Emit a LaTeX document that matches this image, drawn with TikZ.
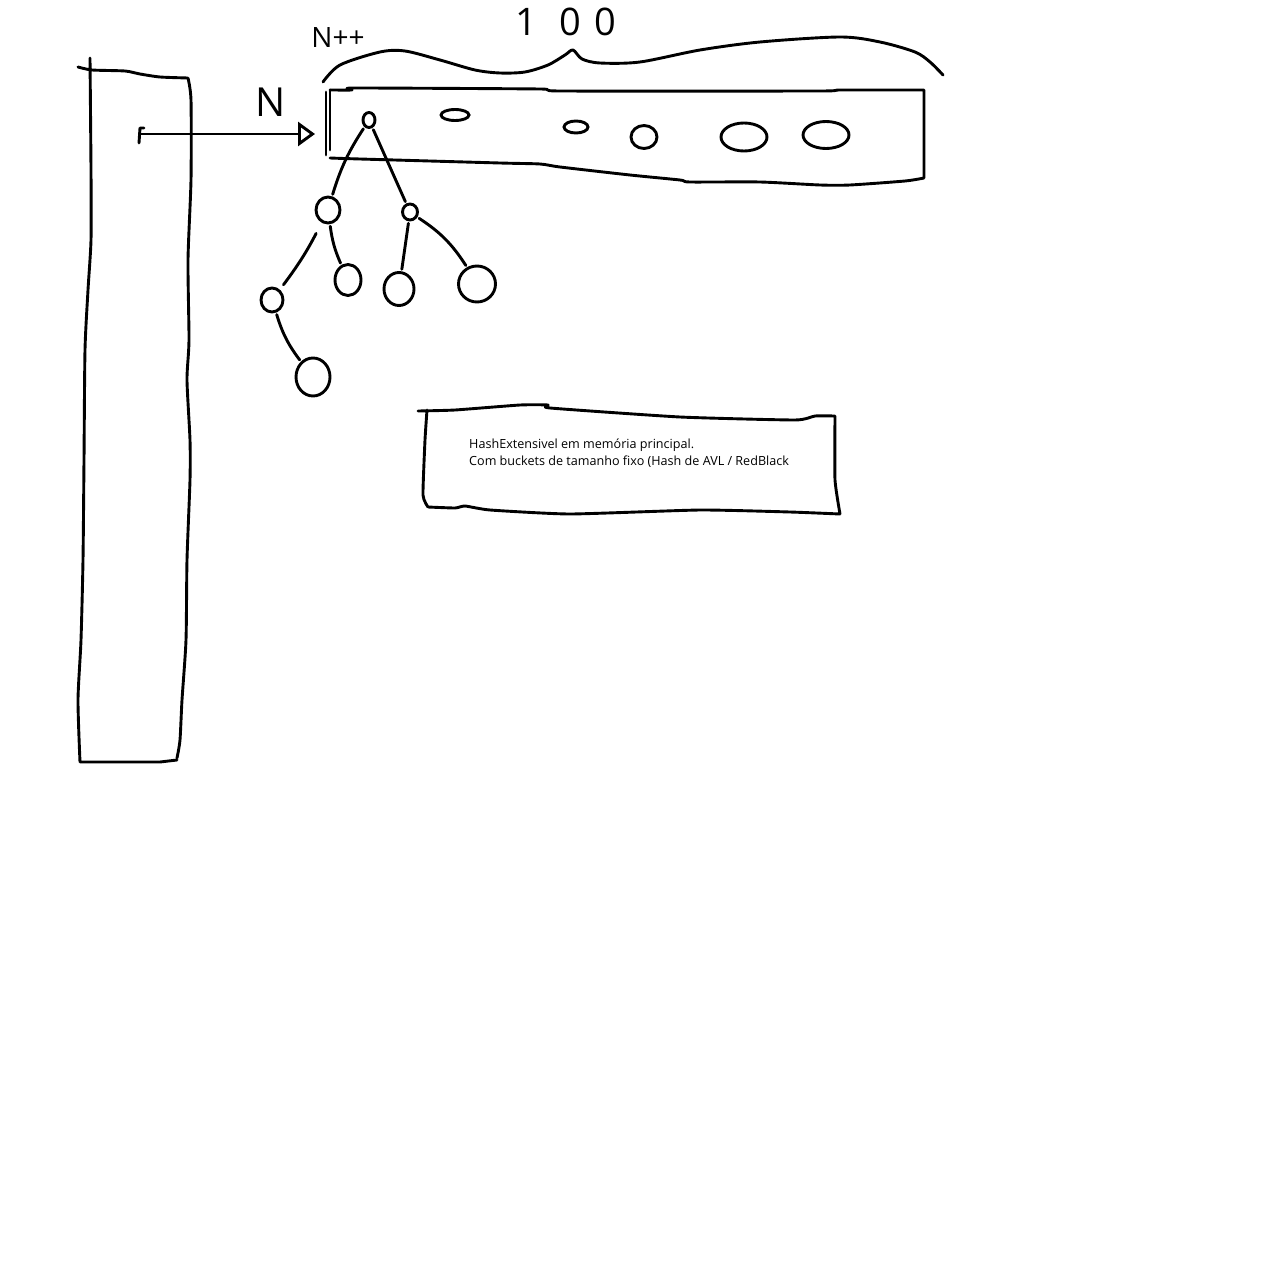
\documentclass[tikz,border=0pt]{standalone}
\usepackage{fontspec}
\setmainfont{Open Sans}
\usetikzlibrary{arrows.meta,shapes.geometric}
\tikzset{
  pen/.style={line width=2.9pt, line cap=round, line join=round},
  tnode/.style={ellipse, draw, line width=2.9pt, inner sep=0pt},
  edge/.style={pen, shorten <=2pt, shorten >=2pt},
  hand/.style={font=\fontsize{40}{42}\selectfont, inner sep=0pt},
  note/.style={font=\fontsize{12.6}{16.2}\selectfont, align=left, inner sep=0pt, anchor=north west}
}
\begin{document}
\begin{tikzpicture}[x=1pt,y=-1pt]
\useasboundingbox[fill=white] (0,0) rectangle (1263,1271);
% left directory
\draw[pen] plot[smooth, tension=0.4] coordinates {(78,67)(92,70)(125,71)(140,74)(160,77)(188,78)}
  plot[smooth, tension=0.4] coordinates {(188,78)(191,100)(191,180)(188,260)(189,340)(187,380)(190,440)(190,480)(187,560)(186,640)(182,700)(180,740)(177,758)}
  (177,760) -- (160,762) -- (80,762)
  plot[smooth, tension=0.4] coordinates {(80,762)(78,700)(81,640)(83,560)(84,460)(85,350)(88,290)(91,240)(91,170)(90,58)};
\coordinate (ptr) at (140,134);
\draw[pen] (139,143) -- (140,128) -- (144,128);
% bucket
\draw[pen] (326,92) -- (326,155) (330,90) -- (330,150);
\draw[pen] plot[smooth, tension=0.3] coordinates {(330,90)(352,90)(354,88)(540,89)(560,91)(820,91)(840,90)(924,90)}
  (924,90) -- (924,178)
  plot[smooth, tension=0.4] coordinates {(924,178)(905,181)(850,185)(820,185)(760,182)(690,182)(680,180)(630,175)(560,167)(540,164)(500,163)(360,159)(330,158)};
\draw[pen, -{Triangle[open, length=17pt, width=24pt, line width=2.9pt]}] (ptr) -- (315,134);
% brace
\draw[pen] plot[smooth, tension=0.5] coordinates {(323,82)(340,65)(380,52)(405,51)(440,60)(475,70)(500,73)(525,72)(548,65)(565,55)(573,50)(582,59)(600,63)(640,62)(700,50)(760,42)(840,37)(880,42)(915,52)(930,62)(943,75)};
% labels
\node[hand] (lN) at (271,102) {N};
\node[hand, font=\fontsize{28}{30}\selectfont] (lNpp) at (338,38) {N++};
\node[hand, font=\fontsize{38}{40}\selectfont] (l100) at (566,22) {1\hspace{22pt}0\hspace{14pt}0};
% bucket entries
\node[tnode, minimum width=28pt, minimum height=11pt] (b1) at (455,115) {};
\node[tnode, minimum width=24pt, minimum height=12pt] (b2) at (576,127) {};
\node[tnode, minimum width=26pt, minimum height=23pt] (b3) at (644,137) {};
\node[tnode, minimum width=46pt, minimum height=28pt] (b4) at (744,137) {};
\node[tnode, minimum width=46pt, minimum height=27pt] (b5) at (826,135) {};
% tree
\node[tnode, minimum width=12pt, minimum height=15pt] (r) at (369,120) {};
\node[tnode, minimum width=24pt, minimum height=26pt] (a) at (328,210) {};
\node[tnode, minimum width=15pt, minimum height=16pt] (b) at (410,212) {};
\node[tnode, minimum width=22pt, minimum height=24pt] (c) at (272,300) {};
\node[tnode, minimum width=26pt, minimum height=31pt] (d) at (348,280) {};
\node[tnode, minimum width=30pt, minimum height=33pt] (e) at (399,289) {};
\node[tnode, minimum width=37pt, minimum height=36pt] (f) at (477,284) {};
\node[tnode, minimum width=34pt, minimum height=38pt] (g) at (313,377) {};
\draw[edge] (r) to[bend right=8] (a);
\draw[edge] (r) -- (b);
\draw[edge, shorten <=12pt, shorten >=6pt] (a) to[bend left=5] (c);
\draw[edge, shorten <=2pt] (a) to[bend right=8] (d);
\draw[edge] (b) -- (e);
\draw[edge] (b) to[bend left=12] (f);
\draw[edge] (c) to[bend right=10] (g);
% note box
\draw[pen] plot[smooth, tension=0.3] coordinates {(418,411)(455,410)(520,405)(548,405)(550,408)(680,417)(795,420)(815,416)(835,416)}
  plot[smooth, tension=0.3] coordinates {(835,416)(835,480)(840,514)}
  plot[smooth, tension=0.3] coordinates {(840,514)(790,512)(700,510)(570,514)(490,510)(465,506)(455,508)(428,507)}
  plot[smooth, tension=0.3] coordinates {(428,507)(423,495)(425,440)(427,410)};
\node[note] (txt) at (469,439) {HashExtensivel em memória principal.\\Com buckets de tamanho fixo (Hash de AVL / RedBlack};
\end{tikzpicture}
\end{document}
